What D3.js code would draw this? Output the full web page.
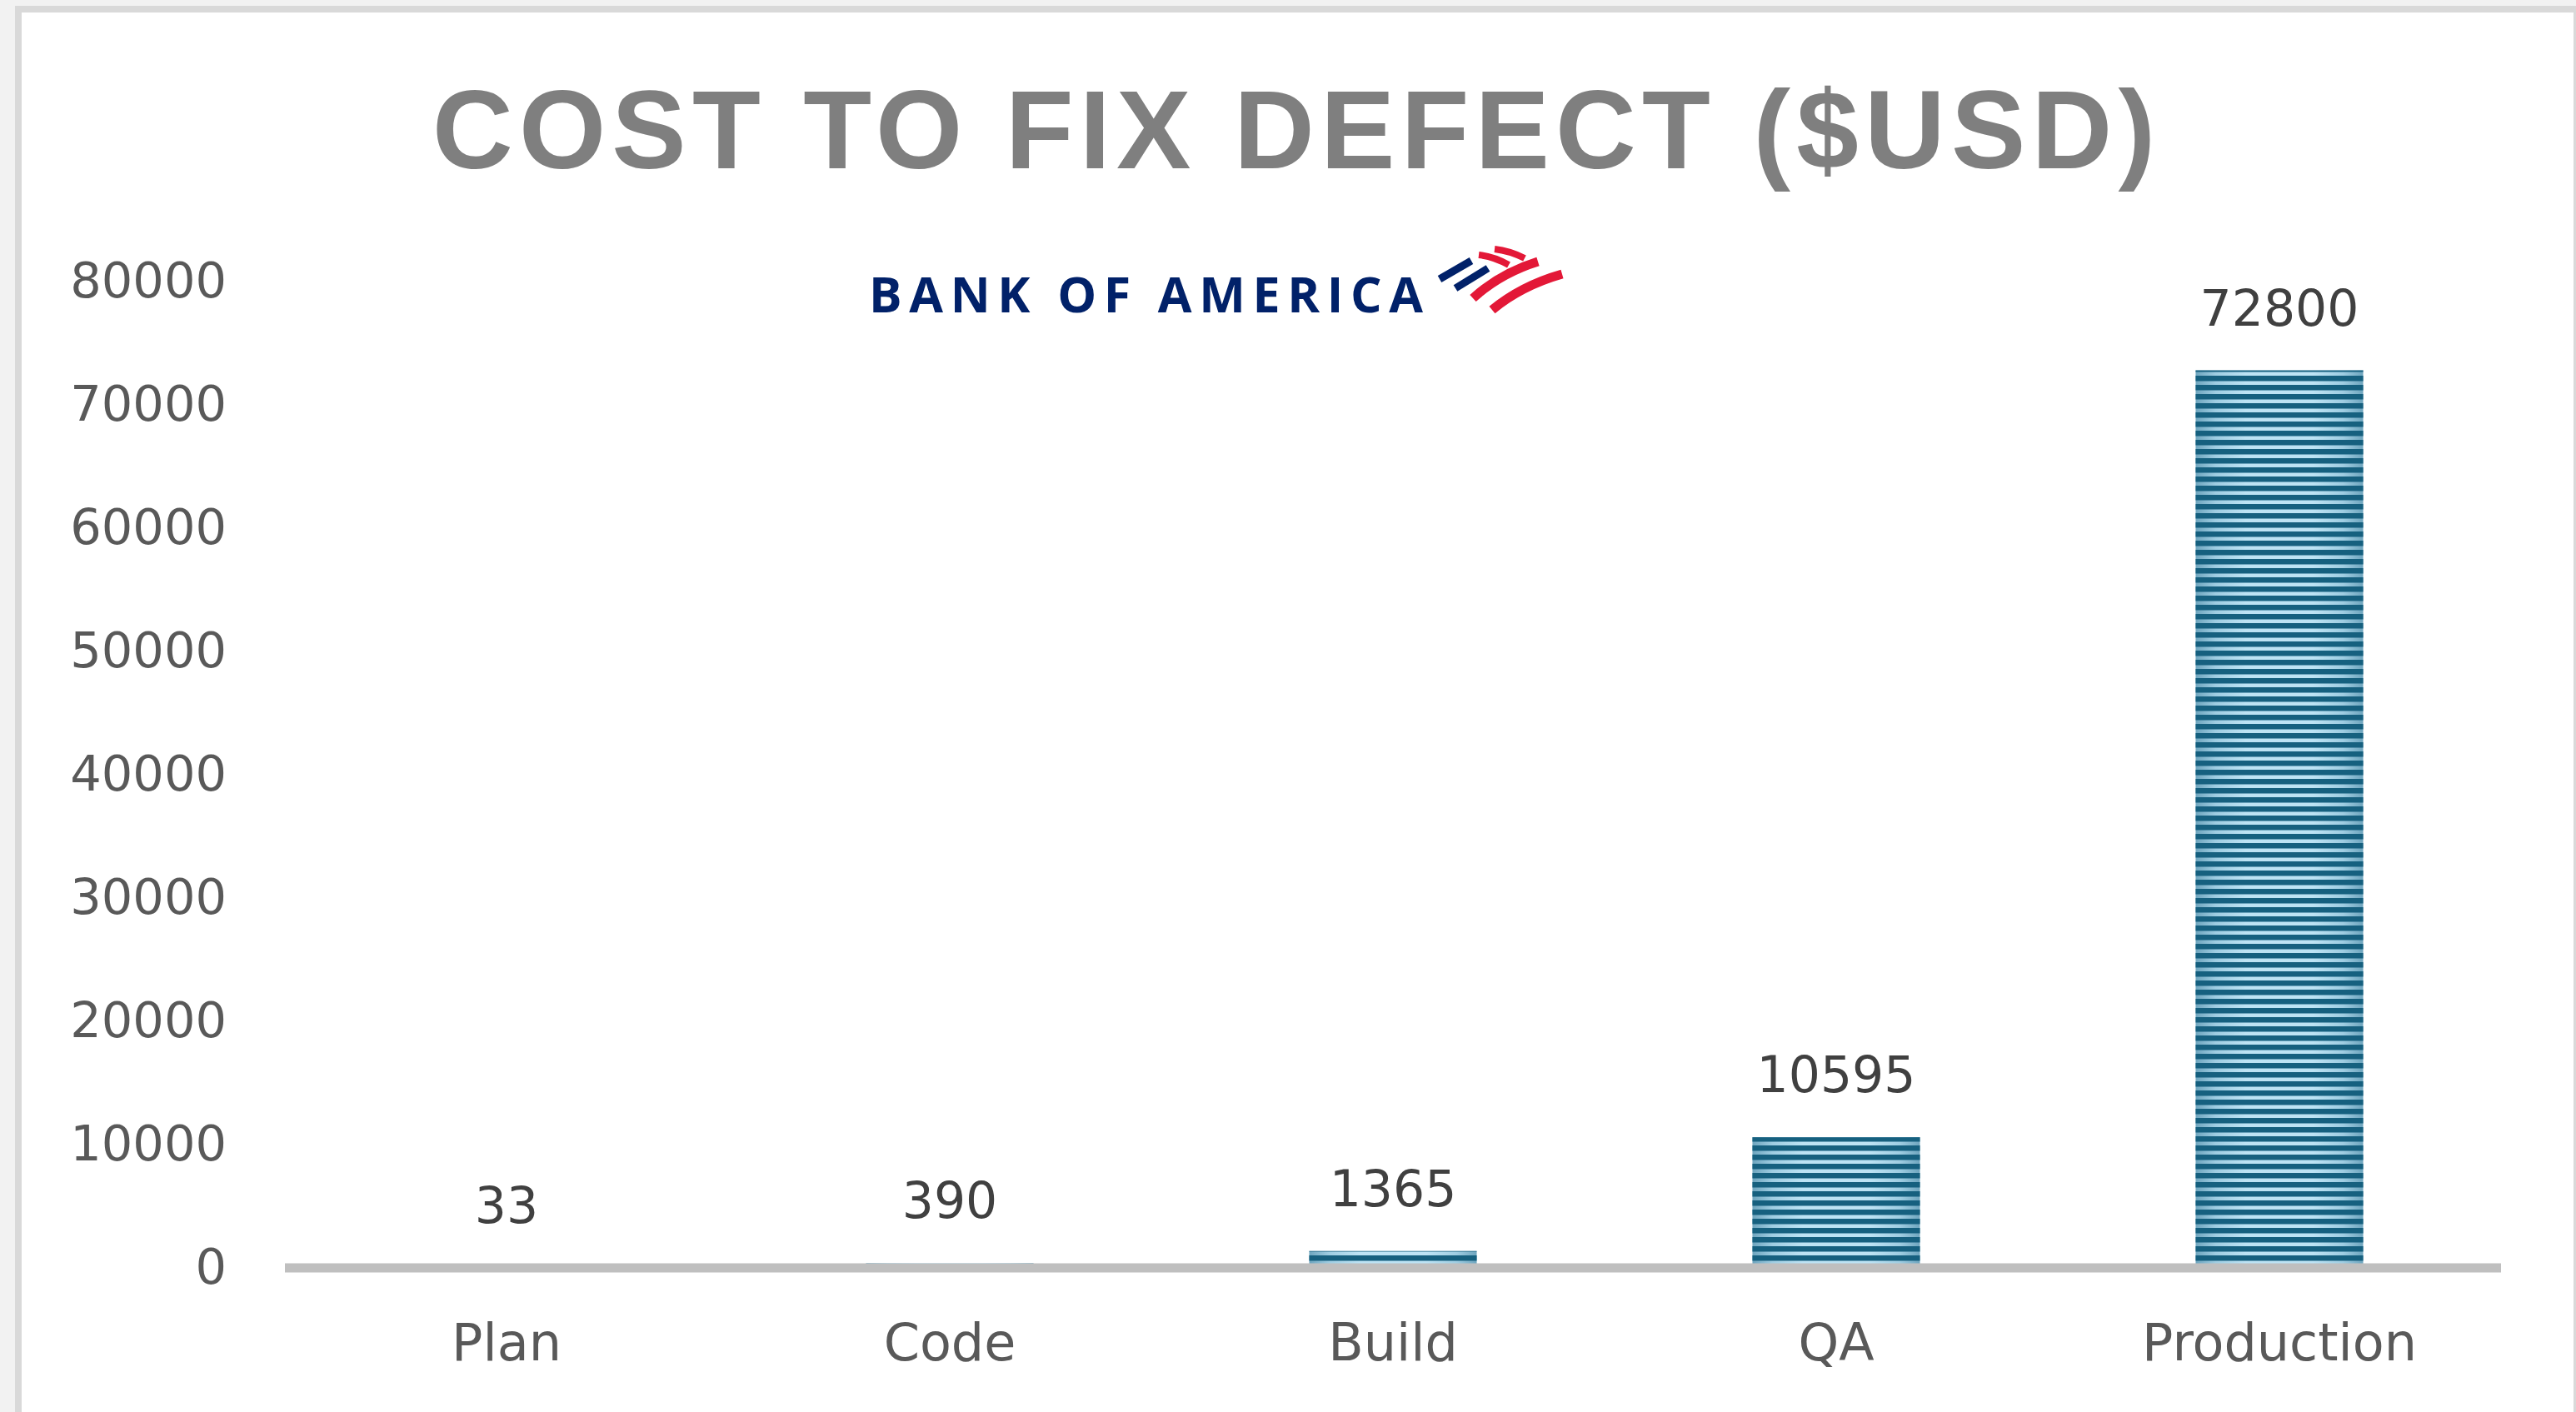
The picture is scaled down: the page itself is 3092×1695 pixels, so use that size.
<!DOCTYPE html>
<html lang="en">
<head>
    <meta charset="UTF-8">
    <title>Cost to fix defect</title>
    <script src="https://d3js.org/d3.v7.min.js"></script>
    <style>
        html, body { margin: 0; padding: 0; background: #f2f2f2; }
        svg { display: block; }
    </style>
</head>
<body>
    <div class="costChart"></div>

    <script>
  // data
  const stages = ["Plan", "Code", "Build", "QA", "Production"]
  const costs = [33, 390, 1365, 10595, 72800]
  const yTicks = [0, 10000, 20000, 30000, 40000, 50000, 60000, 70000, 80000]
  const titleText = "COST TO FIX DEFECT ($USD)"
  const logoText = "BANK OF AMERICA"

  const svgWidth = 3092, svgHeight = 1695

  const svg = d3.select(".costChart")
    .append("svg")
    .attr("width", svgWidth)
    .attr("height", svgHeight)

  // frame of the chart area
  svg.append("rect")
    .attr("x", 18).attr("y", 7)
    .attr("width", svgWidth).attr("height", svgHeight)
    .attr("fill", "#d9d9d9")
  svg.append("rect")
    .attr("x", 26).attr("y", 15)
    .attr("width", 3089 - 26).attr("height", svgHeight)
    .attr("fill", "#ffffff")

  const defs = svg.append("defs")

  // light part of the bars: lighter in the middle, darker at the edges
  const grad = defs.append("linearGradient")
    .attr("id", "barLight")
    .attr("x1", "0%").attr("x2", "100%")
    .attr("y1", "0%").attr("y2", "0%")
  const stops = [[0, "#6ea5be"], [0.12, "#9fcde2"], [0.3, "#bde3f4"], [0.7, "#bde3f4"], [0.88, "#9fcde2"], [1, "#6ea5be"]]
  stops.forEach(s => grad.append("stop").attr("offset", s[0]).attr("stop-color", s[1]))

  // dark horizontal stripes
  const pat = defs.append("pattern")
    .attr("id", "barStripes")
    .attr("patternUnits", "userSpaceOnUse")
    .attr("width", 20).attr("height", 11)
  pat.append("rect")
    .attr("x", 0).attr("y", 0)
    .attr("width", 20).attr("height", 6.5)
    .attr("fill", "#16607f")

  // scales
  const x = d3.scaleBand()
    .domain(stages)
    .range([342, 3002])
    .paddingInner(0.622)
    .paddingOuter(0.311)

  const y = d3.scaleLinear()
    .domain([0, 80000])
    .range([1522, 338])

  // title
  svg.append("text")
    .attr("x", 519)
    .attr("y", 202)
    .attr("textLength", 2068)
    .attr("lengthAdjust", "spacing")
    .style("font-family", "'Liberation Sans', Arial, sans-serif")
    .style("font-weight", "bold")
    .style("font-size", "134px")
    .style("fill", "#7f7f7f")
    .text(titleText)

  // logo
  const logo = svg.append("g")
  logo.append("text")
    .attr("x", 1043)
    .attr("y", 375)
    .attr("textLength", 665)
    .attr("lengthAdjust", "spacing")
    .style("font-family", "'Open Sans', 'Noto Sans', sans-serif")
    .style("font-weight", "bold")
    .style("font-size", "59px")
    .style("fill", "#012169")
    .text(logoText)

  const flag = [
    {d: "M1728,335 L1766,313", c: "#012169", w: 9},
    {d: "M1747,346 L1786,322", c: "#012169", w: 9},
    {d: "M1794,299 Q1812,301 1830,310", c: "#e31837", w: 8},
    {d: "M1775,306 Q1793,308 1811,318", c: "#e31837", w: 8},
    {d: "M1768,358 Q1801,328 1846,314", c: "#e31837", w: 11},
    {d: "M1791,372 Q1826,343 1875,329", c: "#e31837", w: 11}
  ]
  logo.selectAll("path")
    .data(flag)
    .join("path")
      .attr("d", d => d.d)
      .attr("fill", "none")
      .attr("stroke", d => d.c)
      .attr("stroke-width", d => d.w)

  // y axis labels
  const yAxis = d3.axisLeft(y)
    .tickValues(yTicks)
    .tickSize(0)
    .tickPadding(0)
    .tickFormat(d => d)

  const yG = svg.append("g")
    .attr("transform", "translate(272,0)")
    .call(yAxis)
  yG.select(".domain").remove()
  yG.selectAll("text")
    .style("font-family", "'DejaVu Sans', sans-serif")
    .style("font-size", "59px")
    .style("fill", "#595959")

  // bars
  const bars = svg.append("g")
  const barData = stages.map((s, i) => ({stage: s, cost: costs[i]}))

  bars.selectAll(".barBase")
    .data(barData)
    .join("rect")
      .attr("class", "barBase")
      .attr("x", d => x(d.stage))
      .attr("y", d => y(d.cost))
      .attr("width", x.bandwidth())
      .attr("height", d => y(0) - y(d.cost))
      .attr("fill", "url(#barLight)")

  bars.selectAll(".barStripe")
    .data(barData)
    .join("rect")
      .attr("class", "barStripe")
      .attr("x", d => x(d.stage))
      .attr("y", d => y(d.cost))
      .attr("width", x.bandwidth())
      .attr("height", d => y(0) - y(d.cost))
      .attr("fill", "url(#barStripes)")

  // value labels
  svg.append("g")
    .selectAll("text")
    .data(barData)
    .join("text")
      .attr("x", d => x(d.stage) + x.bandwidth() / 2)
      .attr("y", d => y(d.cost) - 54)
      .attr("text-anchor", "middle")
      .style("font-family", "'DejaVu Sans', sans-serif")
      .style("font-size", "60px")
      .style("fill", "#404040")
      .text(d => d.cost)

  // x axis line and category labels
  svg.append("line")
    .attr("x1", x.range()[0]).attr("x2", x.range()[1])
    .attr("y1", y(0)).attr("y2", y(0))
    .attr("stroke", "#bfbfbf")
    .attr("stroke-width", 11)

  const xAxis = d3.axisBottom(x)
    .tickSize(0)
    .tickPadding(67)

  const xG = svg.append("g")
    .attr("transform", `translate(0,${y(0)})`)
    .call(xAxis)
  xG.select(".domain").remove()
  xG.selectAll("text")
    .style("font-family", "'DejaVu Sans', sans-serif")
    .style("font-size", "62px")
    .style("fill", "#595959")

    </script>
</body>
</html>
